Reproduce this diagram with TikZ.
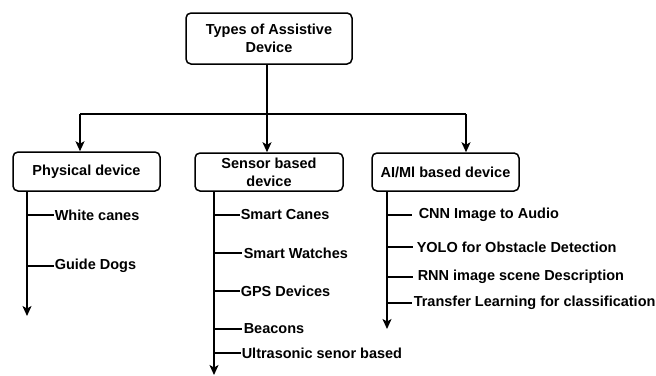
\documentclass[tikz,border=0pt]{standalone}
\usepackage{fontspec}
\setmainfont{Liberation Sans}
\usetikzlibrary{arrows.meta}
\begin{document}
\begin{tikzpicture}[x=1pt,y=-1pt,
  line width=1.5pt,
  font=\fontsize{14.5pt}{18pt}\selectfont\bfseries,
  box/.style={draw,rounded corners=5pt,align=center,inner sep=0pt},
  item/.style={anchor=west,inner sep=0pt},
  arr/.style={-{Stealth[length=10pt,width=9pt,inset=2.5pt]}}]
\useasboundingbox (0,0) rectangle (656,375);
% boxes
\node[box,minimum width=166pt,minimum height=51pt] (top) at (269,38.5) {Types of Assistive\\Device};
\node[box,minimum width=147pt,minimum height=39pt] (phys) at (86.5,171.5) {Physical device};
\node[box,minimum width=148pt,minimum height=38pt] (sens) at (269,172) {Sensor based\\device};
\node[box,minimum width=147pt,minimum height=38pt] (ai) at (445.5,172) {AI/Ml based device};
% top connectors
\coordinate (hj) at (267,114);
\coordinate (hl) at (80,114);
\coordinate (hr) at (466,114);
\draw (hj |- top.south) -- (hj);
\draw (hl) -- (hr);
\draw[arr] (hl) -- (hl |- phys.north);
\draw[arr] (hj) -- (hj |- sens.north);
\draw[arr] (hr) -- (hr |- ai.north);
% physical
\coordinate (pt) at (27,191);
\coordinate (pe) at (27,316);
\draw[arr] (pt |- phys.south) -- (pe);
\node[item] (p1) at (54,215) {White canes};
\node[item] (p2) at (54,266) {Guide Dogs};
\draw (pt |- p1.west) -- (p1.west);
\draw (pt |- p2.west) -- (p2.west);
% sensor
\coordinate (st) at (214,191);
\coordinate (se) at (214,375);
\draw[arr] (st |- sens.south) -- (se);
\node[item] (s1) at (240,215) {Smart Canes};
\node[item] (s2) at (243,253) {Smart Watches};
\node[item] (s3) at (240,291) {GPS Devices};
\node[item] (s4) at (243,329) {Beacons};
\node[item] (s5) at (241,353) {Ultrasonic senor based};
\draw (st |- s1.west) -- (s1.west);
\draw (st |- s2.west) -- ([xshift=-1pt]s2.west);
\draw (st |- s3.west) -- (s3.west);
\draw (st |- s4.west) -- ([xshift=-1pt]s4.west);
\draw (st |- s5.west) -- (s5.west);
% AI
\coordinate (at) at (387,191);
\coordinate (ae) at (387,329);
\draw[arr] (at |- ai.south) -- (ae);
\node[item] (a1) at (418,215) {CNN Image to Audio};
\node[item] (a2) at (416,247) {YOLO for Obstacle Detection};
\node[item] (a3) at (417,277) {RNN image scene Description};
\node[item] (a4) at (413,303) {Transfer Learning for classification};
\draw (at |- a1.west) -- ([xshift=-6pt]a1.west);
\draw (at |- a2.west) -- ([xshift=-3pt]a2.west);
\draw (at |- a3.west) -- ([xshift=-4pt]a3.west);
\draw (at |- a4.west) -- ([xshift=-1pt]a4.west);
\end{tikzpicture}
\end{document}
